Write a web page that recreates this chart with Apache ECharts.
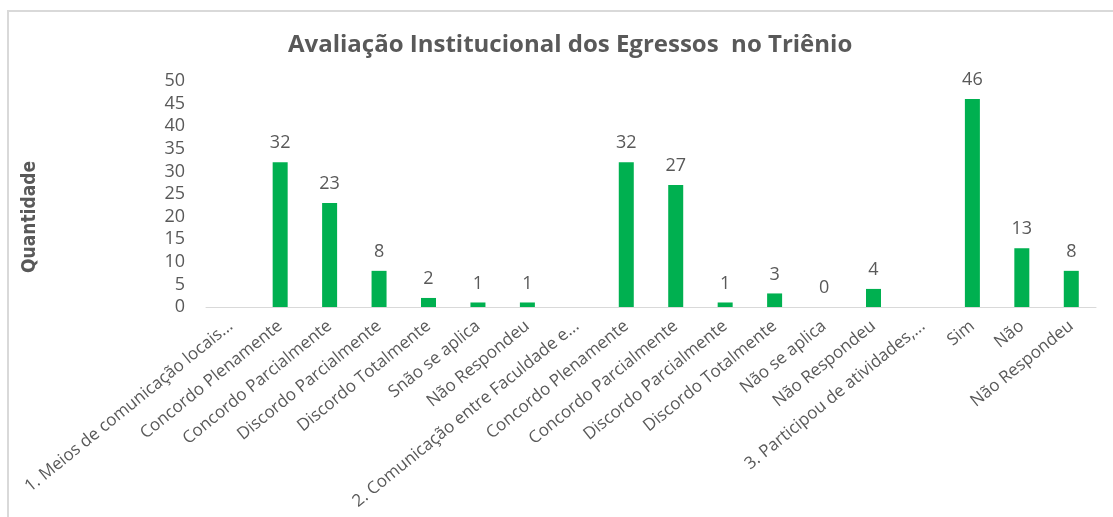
<!DOCTYPE html>
<html>
<head>
<meta charset="utf-8">
<script src="https://cdn.jsdelivr.net/npm/echarts@6/dist/echarts.min.js"></script>
<style>
  html, body { margin: 0; padding: 0; background: #fff; }
  #chart { width: 1113px; height: 517px; }
</style>
</head>
<body>
<div id="chart"></div>
<script>
// categorias do eixo x
const categorias = [
  '1. Meios de comunicação locais...',
  'Concordo Plenamente',
  'Concordo Parcialmente',
  'Discordo Parcialmente',
  'Discordo Totalmente',
  'Snão se aplica',
  'Não Respondeu',
  '2. Comunicação entre Faculdade e...',
  'Concordo Plenamente',
  'Concordo Parcialmente',
  'Discordo Parcialmente',
  'Discordo Totalmente',
  'Não se aplica',
  'Não Respondeu',
  '3. Participou de atividades,...',
  'Sim',
  'Não',
  'Não Respondeu'
]
// quantidades (null = linha de título, sem valor)
const quantidades = [null, 32, 23, 8, 2, 1, 1, null, 32, 27, 1, 3, 0, 4, null, 46, 13, 8]
const yTicks = [0, 5, 10, 15, 20, 25, 30, 35, 40, 45, 50]

const txt = '#595959'
const chart = echarts.init(document.getElementById('chart'))
const options = {
  backgroundColor: '#fff',
  graphic: [{
    type: 'rect',
    shape: { x: 8, y: 11, width: 1200, height: 600 },
    style: { fill: 'none', stroke: '#d9d9d9', lineWidth: 2 },
    silent: true
  }],
  title: {
    text: 'Avaliação Institucional dos Egressos  no Triênio',
    left: 283,
    top: 28,
    textStyle: {
      fontFamily: 'Open Sans',
      fontSize: 24,
      fontWeight: 'bold',
      color: txt
    }
  },
  grid: {
    left: 206,
    right: 17,
    top: 81,
    bottom: 210,
    outerBoundsMode: 'none',
    containLabel: false
  },
  xAxis: {
    type: 'category',
    data: categorias,
    axisLine: { lineStyle: { color: '#d9d9d9', width: 1 } },
    axisTick: { show: false },
    axisLabel: {
      interval: 0,
      rotate: 39,
      margin: 17,
      color: txt,
      fontFamily: 'Open Sans',
      fontSize: 17
    }
  },
  yAxis: {
    type: 'value',
    min: yTicks[0],
    max: yTicks[yTicks.length - 1],
    interval: 5,
    name: 'Quantidade',
    nameLocation: 'middle',
    nameRotate: 90,
    nameGap: 166,
    nameTextStyle: {
      fontFamily: 'DejaVu Sans Condensed, Roboto',
      fontWeight: 'bold',
      fontSize: 19,
      color: txt,
      padding: [0, 46, 0, 0]
    },
    axisLine: { show: false },
    axisTick: { show: false },
    splitLine: { show: false },
    axisLabel: {
      margin: 21,
      color: txt,
      fontFamily: 'Open Sans',
      fontSize: 18
    }
  },
  series: [{
    type: 'bar',
    data: quantidades,
    barWidth: 15,
    itemStyle: { color: '#00B050' },
    label: {
      show: true,
      position: 'top',
      distance: 10,
      color: txt,
      fontFamily: 'Open Sans',
      fontSize: 18
    }
  }]
}
chart.setOption(options)
</script>
</body>
</html>
